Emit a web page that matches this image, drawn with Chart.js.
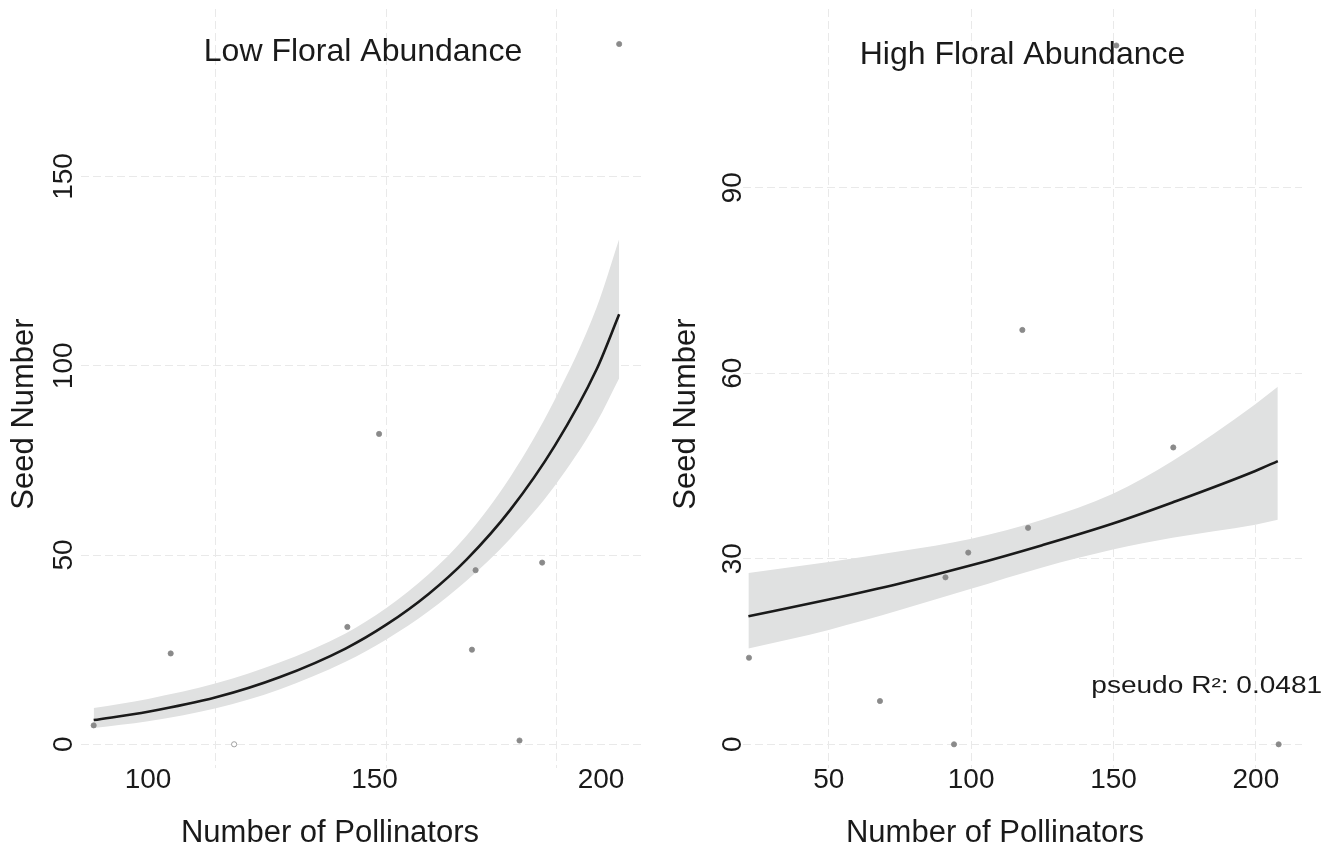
<!DOCTYPE html>
<html>
<head>
<meta charset="utf-8">
<title>Seed number vs pollinators</title>
<script src="https://cdn.jsdelivr.net/npm/chart.js@4.4.1/dist/chart.umd.min.js"></script>
<style>
  html, body { margin: 0; padding: 0; background: #fff; }
  .panel { position: absolute; top: 0; width: 669px; height: 845px; }
  #lowWrap { left: 0; }
  #highWrap { left: 669px; }
</style>
</head>
<body>
<div class="panel" id="lowWrap"><canvas id="lowChart"></canvas></div>
<div class="panel" id="highWrap"><canvas id="highChart"></canvas></div>
<script>
// ---- low floral abundance ----
const lowPollinators = [88, 105, 119, 144, 151, 171.5, 172.3, 182, 187, 204];
const lowSeeds       = [5, 24, 0, 31, 82, 25, 46, 1, 48, 185];
const lowFitX  = [88, 100, 115, 129, 143.6, 152.6, 162, 170.3, 180, 189.8, 199, 204];
const lowFit   = [6.4, 8.6, 12.4, 17.7, 25.3, 31.6, 39.8, 48.8, 62.0, 78.9, 99.0, 113.6];
const lowUpper = [9.6, 12.0, 16.1, 21.6, 29.3, 36.0, 45.0, 55.1, 70.7, 91.1, 115.3, 133.5];
const lowLower = [4.3, 6.1, 9.5, 14.5, 21.8, 27.7, 35.2, 43.2, 54.4, 68.3, 85.0, 96.7];
const lowXLabels = [100, 150, 200];
const lowXGrid   = [115, 152.7, 190.2];
const lowYTicks  = [0, 50, 100, 150];

// ---- high floral abundance ----
const highPollinators = [22, 68, 91, 94, 99, 118, 120, 151, 171, 208];
const highSeeds       = [14, 7, 27, 0, 31, 67, 35, 113, 48, 0];
const highFitX  = [21.8, 50, 75, 99.7, 125, 149.8, 170.7, 199.8, 207.7];
const highFit   = [20.7, 23.4, 26.0, 28.9, 32.2, 35.7, 39.1, 44.2, 45.8];
const highUpper = [27.7, 29.5, 31.2, 33.2, 36.3, 40.5, 45.8, 55.0, 57.8];
const highLower = [15.5, 18.5, 21.7, 25.1, 28.6, 31.5, 33.4, 35.5, 36.3];
const highXTicks = [50, 100, 150, 200];
const highYTicks = [0, 30, 60, 90];
const highR2 = "pseudo R\u00B2: 0.0481";

const FONT = '"Liberation Sans", Arial, Helvetica, sans-serif';
const INK = '#1a1a1a';
const GRID = '#e9e9e9';

function pts(xs, ys) {
  return xs.map((x, i) => ({ x: x, y: ys[i] }));
}

// titles, axis titles and the R2 note
const panelText = {
  id: 'panelText',
  beforeDatasetsDraw(chart, args, o) {
    const ctx = chart.ctx;
    const a = chart.chartArea;
    ctx.save();
    ctx.fillStyle = INK;
    ctx.textAlign = 'center';
    ctx.textBaseline = 'alphabetic';
    ctx.font = '32px ' + FONT;
    ctx.fillText(o.title, (a.left + a.right) / 2, o.titleY);

    ctx.font = '31px ' + FONT;
    ctx.fillText('Number of Pollinators', o.xTitleX, o.xTitleY);

    ctx.translate(o.yTitleX, o.yTitleY);
    ctx.rotate(-Math.PI / 2);
    ctx.textBaseline = 'middle';
    ctx.fillText('Seed Number', 0, 0);
    ctx.restore();

    if (o.note) {
      const px = chart.scales.x.getPixelForValue(o.note.x);
      const py = chart.scales.y.getPixelForValue(o.note.y);
      ctx.save();
      ctx.fillStyle = INK;
      ctx.font = '23px ' + FONT;
      ctx.textAlign = 'left';
      ctx.textBaseline = 'middle';
      ctx.translate(px, py);
      ctx.scale(1.22, 1);
      ctx.fillText(o.note.text, 0, 0);
      ctx.restore();
    }
  }
};

function makeChart(id, cfg) {
  const hollow = cfg.hollow || [];
  return new Chart(document.getElementById(id), {
    type: 'line',
    data: {
      datasets: [
        {
          label: 'upper',
          data: pts(cfg.fitX, cfg.upper),
          borderWidth: 0,
          pointRadius: 0,
          backgroundColor: '#e0e1e1',
          fill: '+1',
          cubicInterpolationMode: 'monotone',
          order: 4
        },
        {
          label: 'lower',
          data: pts(cfg.fitX, cfg.lower),
          borderWidth: 0,
          pointRadius: 0,
          fill: false,
          cubicInterpolationMode: 'monotone',
          order: 3
        },
        {
          label: 'fit',
          data: pts(cfg.fitX, cfg.fit),
          borderColor: INK,
          borderWidth: 2.6,
          pointRadius: 0,
          fill: false,
          cubicInterpolationMode: 'monotone',
          order: 2
        },
        {
          label: 'observed',
          data: pts(cfg.px, cfg.py),
          showLine: false,
          pointRadius: 2.6,
          pointBorderWidth: 0.8,
          pointBorderColor: '#8a8a8a',
          pointBackgroundColor: cfg.px.map((v, i) => hollow.includes(i) ? '#ffffff' : '#8a8a8a'),
          order: 1
        }
      ]
    },
    options: {
      responsive: true,
      maintainAspectRatio: false,
      animation: false,
      layout: { padding: { left: 0, right: cfg.padRight, top: 9, bottom: 0 } },
      plugins: {
        legend: { display: false },
        tooltip: { enabled: false },
        panelText: cfg.text
      },
      scales: {
        x: {
          type: 'linear',
          min: cfg.xMin,
          max: cfg.xMax,
          afterBuildTicks: s => { s.ticks = cfg.xTickValues.map(v => ({ value: v })); },
          afterFit: s => { s.height = 77; },
          grid: {
            drawTicks: false,
            lineWidth: 1,
            color: c => (c.tick && cfg.xGridValues.includes(c.tick.value)) ? GRID : 'rgba(0,0,0,0)'
          },
          border: { display: false, dash: [8, 4] },
          ticks: {
            autoSkip: false,
            maxRotation: 0,
            padding: -2,
            color: INK,
            font: { family: FONT, size: 28, lineHeight: 1 },
            callback: v => cfg.xLabelValues.includes(v) ? String(v) : ''
          }
        },
        y: {
          type: 'linear',
          min: cfg.yMin,
          max: cfg.yMax,
          afterBuildTicks: s => { s.ticks = cfg.yTicks.map(v => ({ value: v })); },
          afterFit: s => { s.width = cfg.yWidth; },
          grid: { drawTicks: false, lineWidth: 1, color: GRID },
          border: { display: false, dash: [8, 4] },
          ticks: {
            minRotation: 90,
            maxRotation: 90,
            crossAlign: 'center',
            padding: cfg.yTickPad,
            color: INK,
            font: { family: FONT, size: 28, lineHeight: 1 }
          }
        }
      }
    },
    plugins: [panelText]
  });
}

makeChart('lowChart', {
  px: lowPollinators, py: lowSeeds, hollow: [2],
  fitX: lowFitX, fit: lowFit, upper: lowUpper, lower: lowLower,
  xMin: 85.2, xMax: 209.7, yMin: -6.26, yMax: 194.25,
  xTickValues: [100, 115, 150, 152.7, 190.2, 200],
  xGridValues: lowXGrid, xLabelValues: lowXLabels, yTicks: lowYTicks,
  yWidth: 81, padRight: 24, yTickPad: -7,
  text: { title: 'Low Floral Abundance', titleY: 61, xTitleX: 330, xTitleY: 842, yTitleX: 24, yTitleY: 414 }
});

makeChart('highChart', {
  px: highPollinators, py: highSeeds,
  fitX: highFitX, fit: highFit, upper: highUpper, lower: highLower,
  xMin: 19.9, xMax: 216.2, yMin: -3.83, yMax: 118.9,
  xTickValues: highXTicks, xGridValues: highXTicks, xLabelValues: highXTicks, yTicks: highYTicks,
  yWidth: 74, padRight: 36, yTickPad: -5.5,
  text: { title: 'High Floral Abundance', titleY: 64, xTitleX: 326, xTitleY: 842, yTitleX: 17, yTitleY: 414,
          note: { x: 142.2, y: 9.3, text: highR2 } }
});
</script>
</body>
</html>
